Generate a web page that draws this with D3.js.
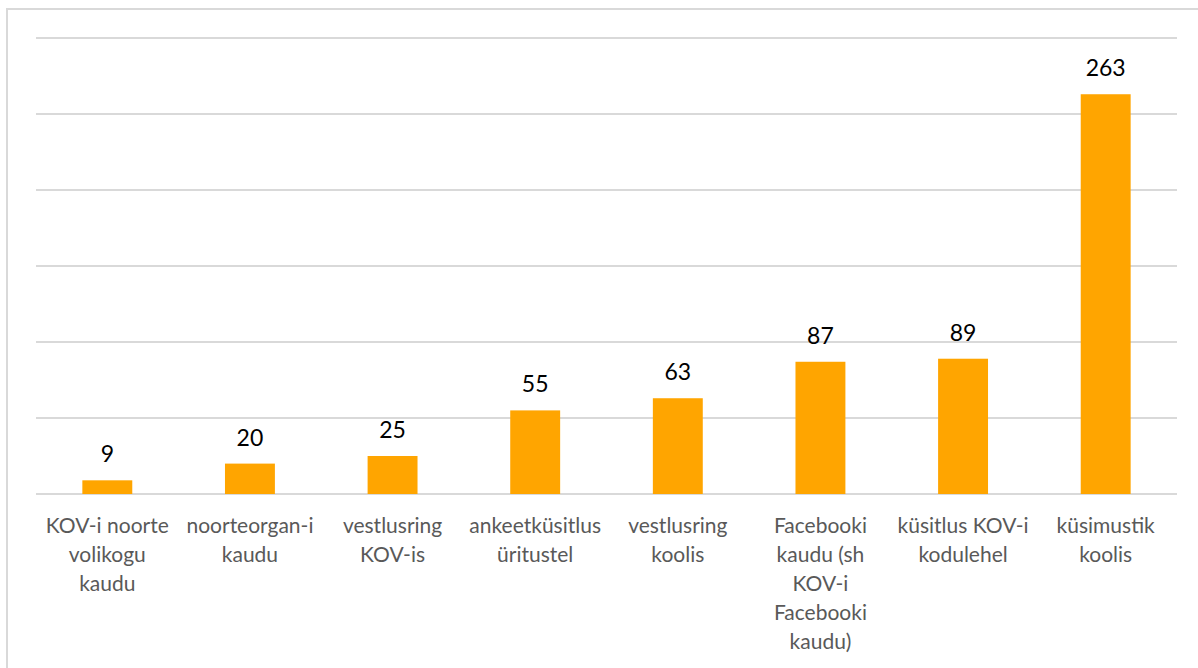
<!DOCTYPE html>
<html>
<head>
<meta charset="utf-8">
<script src="https://cdn.jsdelivr.net/npm/d3@7"></script>
<style>
  body { margin: 0; background: #fff; }
  svg { display: block; }
  .grid line { stroke: #d9d9d9; stroke-width: 2; }
  .cat { font-family: Lato, "Open Sans", sans-serif; font-size: 21px; fill: #595959; }
  .val { font-family: Lato, "Open Sans", sans-serif; font-size: 23px; fill: #000; }
</style>
</head>
<body>
<script>
// categories (wrapped as shown on the axis)
var categories = [
    ["KOV-i noorte", "volikogu", "kaudu"],
    ["noorteorgan-i", "kaudu"],
    ["vestlusring", "KOV-is"],
    ["ankeetküsitlus", "üritustel"],
    ["vestlusring", "koolis"],
    ["Facebooki", "kaudu (sh", "KOV-i", "Facebooki", "kaudu)"],
    ["küsitlus KOV-i", "kodulehel"],
    ["küsimustik", "koolis"]
];
var values = [9, 20, 25, 55, 63, 87, 89, 263];
var gridTicks = [0, 50, 100, 150, 200, 250, 300];

var width = 1198,
    height = 668;

var svg = d3.select("body")
    .append("svg")
    .attr("width", width)
    .attr("height", height);

// outer chart frame
svg.append("rect")
    .attr("x", 7)
    .attr("y", 9)
    .attr("width", width + 20)
    .attr("height", height + 20)
    .attr("fill", "none")
    .attr("stroke", "#d9d9d9")
    .attr("stroke-width", 2);

var x = d3.scaleBand()
    .domain(d3.range(categories.length))
    .range([36, 1177])
    .paddingInner(0.65)
    .paddingOuter(0.325);

var y = d3.scaleLinear()
    .domain([0, 300])
    .range([494, 38]);

// gridlines
svg.append("g")
    .attr("class", "grid")
    .selectAll("line")
    .data(gridTicks)
    .enter()
    .append("line")
    .attr("x1", 36)
    .attr("x2", 1177)
    .attr("y1", function(d){ return y(d); })
    .attr("y2", function(d){ return y(d); });

// bars
svg.selectAll(".bar")
    .data(values)
    .enter()
    .append("rect")
    .attr("class", "bar")
    .attr("x", function(d, i){ return x(i); })
    .attr("y", function(d){ return y(d); })
    .attr("width", x.bandwidth())
    .attr("height", function(d){ return y(0) - y(d); })
    .attr("fill", "#ffa500");

// value labels
svg.selectAll(".val")
    .data(values)
    .enter()
    .append("text")
    .attr("class", "val")
    .attr("x", function(d, i){ return x(i) + x.bandwidth() / 2; })
    .attr("y", function(d){ return y(d) - 18; })
    .attr("text-anchor", "middle")
    .text(function(d){ return d; });

// category labels
var cats = svg.selectAll(".cat")
    .data(categories)
    .enter()
    .append("text")
    .attr("class", "cat")
    .attr("text-anchor", "middle")
    .attr("transform", function(d, i){
        return "translate(" + (x(i) + x.bandwidth() / 2) + ",533)";
    });

cats.selectAll("tspan")
    .data(function(d){ return d; })
    .enter()
    .append("tspan")
    .attr("x", 0)
    .attr("y", function(d, j){ return j * 29; })
    .text(function(d){ return d; });
</script>
</body>
</html>
